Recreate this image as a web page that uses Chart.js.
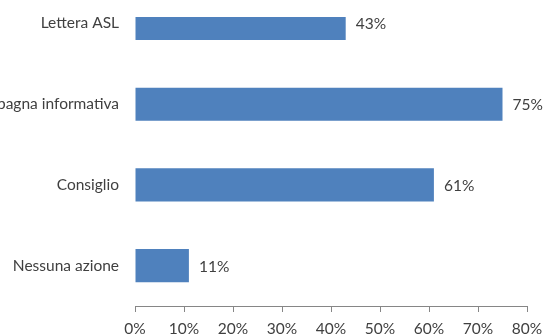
<!DOCTYPE html>
<html>
<head>
<meta charset="utf-8">
<script src="https://cdn.jsdelivr.net/npm/chart.js@4/dist/chart.umd.min.js"></script>
<style>
  html, body { margin: 0; padding: 0; background: #fff; overflow: hidden; width: 546px; height: 336px; }
  #wrap { position: absolute; left: -60px; top: 0; width: 606px; height: 336px; }
</style>
</head>
<body>
<div id="wrap"><canvas id="c" width="606" height="336"></canvas></div>
<script>
const categories = ["Lettera ASL", "Campagna informativa", "Consiglio", "Nessuna azione"];
const values = [43, 75, 61, 11];
const xTicks = [0, 10, 20, 30, 40, 50, 60, 70, 80];

const FONT = "Lato, 'Open Sans', sans-serif";
const TEXT = "#404040";

const valueLabels = {
  id: 'valueLabels',
  afterDatasetsDraw(chart) {
    const ctx = chart.ctx;
    const meta = chart.getDatasetMeta(0);
    ctx.save();
    ctx.font = "15.5px " + FONT;
    ctx.fillStyle = TEXT;
    ctx.textAlign = 'left';
    ctx.textBaseline = 'middle';
    meta.data.forEach((el, i) => {
      ctx.fillText(values[i] + '%', el.x + 10, el.y + 1);
    });
    ctx.restore();
  }
};

new Chart(document.getElementById('c'), {
  type: 'bar',
  data: {
    datasets: [{
      data: values.map((v, i) => ({ x: v, y: i })),
      backgroundColor: '#4F81BD',
      borderWidth: 0,
      barPercentage: 0.41,
      categoryPercentage: 1,
      clip: 0
    }]
  },
  options: {
    indexAxis: 'y',
    responsive: false,
    animation: false,
    devicePixelRatio: 1,
    layout: { padding: { top: 17, right: 19, left: 0, bottom: 0 } },
    plugins: { legend: { display: false }, tooltip: { enabled: false } },
    scales: {
      x: {
        type: 'linear',
        min: 0, max: 80,
        afterBuildTicks: axis => { axis.ticks = xTicks.map(v => ({ value: v })); },
        afterFit: axis => { axis.height = 30; axis.paddingLeft = 0; axis.paddingRight = 0; },
        ticks: {
          callback: v => v + '%',
          font: { family: FONT, size: 15.5 },
          color: TEXT,
          padding: 8,
          maxRotation: 0
        },
        grid: { drawOnChartArea: false, drawTicks: true, tickLength: 6, color: '#868686' },
        border: { display: true, color: '#868686' }
      },
      y: {
        type: 'linear',
        reverse: true,
        offset: false,
        min: -0.08, max: 3.5,
        afterBuildTicks: axis => { axis.ticks = categories.map((c, i) => ({ value: i })); },
        afterFit: axis => { axis.width = 195; axis.paddingTop = 0; axis.paddingBottom = 0; },
        ticks: {
          callback: v => categories[v],
          font: { family: FONT, size: 15.5 },
          color: TEXT,
          padding: 16
        },
        grid: { display: false, drawTicks: false, tickLength: 0 },
        border: { display: false }
      }
    }
  },
  plugins: [valueLabels]
});
</script>
</body>
</html>
